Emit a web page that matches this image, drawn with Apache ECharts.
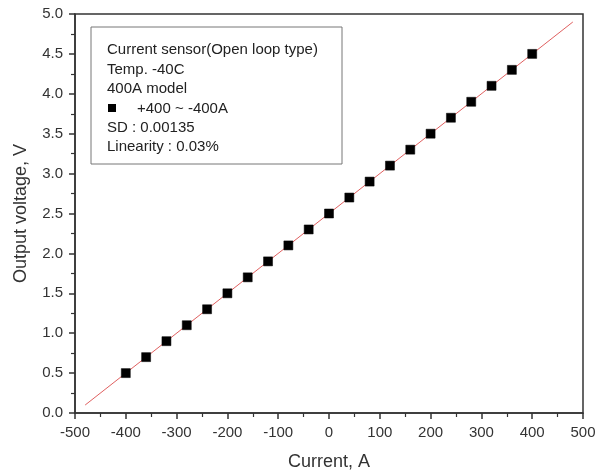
<!DOCTYPE html>
<html>
<head>
<meta charset="utf-8">
<script src="https://cdn.jsdelivr.net/npm/echarts@6/dist/echarts.min.js"></script>
<style>html,body{margin:0;padding:0;background:#fff}#c{width:610px;height:474px}</style>
</head>
<body>
<div id="c"></div>
<script>
var currents = [-400,-360,-320,-280,-240,-200,-160,-120,-80,-40,0,40,80,120,160,200,240,280,320,360,400];
var voltages = [0.50,0.70,0.90,1.10,1.30,1.50,1.70,1.90,2.10,2.30,2.50,2.70,2.90,3.10,3.30,3.50,3.70,3.90,4.10,4.30,4.50];
var fitX = [-480, 480];
var fitY = [0.10, 4.90];
var legendLines = ['Current sensor(Open loop type)','Temp. -40C','400A model','+400 ~ -400A','SD : 0.00135','Linearity : 0.03%'];

var chart = echarts.init(document.getElementById('c'), null, {renderer:'canvas'});
var font = 'Liberation Sans, Arial, sans-serif';
var texts = [];
var lineYs = [50,70,89,109,128,147];
legendLines.forEach(function(t,i){
  texts.push({type:'text', left: i===3 ? 137 : 107, top: lineYs[i]-8, style:{text:t, font:'15px '+font, fill:'#222'}});
});
texts.push({type:'rect', shape:{x:108,y:104,width:8,height:8}, style:{fill:'#000'}});
texts.unshift({type:'rect', shape:{x:91,y:27,width:251,height:137}, style:{fill:'#fff', stroke:'#777', lineWidth:1}});

chart.setOption({
  animation:false,
  backgroundColor:'#fff',
  grid:{left:75,right:27,top:14,bottom:61,outerBoundsMode:'none',containLabel:false,show:true,borderColor:'#333',borderWidth:1.5,backgroundColor:'transparent'},
  xAxis:{type:'value',min:-500,max:500,interval:100,
    name:'Current, A',nameLocation:'middle',nameGap:40,
    nameTextStyle:{fontFamily:font,fontSize:18,color:'#333'},
    axisLine:{onZero:false,lineStyle:{color:'#333',width:1.5}},
    axisTick:{show:true,inside:false,length:6,lineStyle:{color:'#333',width:1.5}},
    minorTick:{show:true,splitNumber:2,length:4,lineStyle:{color:'#333',width:1.2}},
    axisLabel:{fontFamily:font,fontSize:15,color:'#333',margin:12},
    splitLine:{show:false}},
  yAxis:{type:'value',min:0,max:5,interval:0.5,
    name:'Output voltage, V',nameLocation:'middle',nameGap:45,
    nameTextStyle:{fontFamily:font,fontSize:18,color:'#333'},
    axisLine:{onZero:false,lineStyle:{color:'#333',width:1.5}},
    axisTick:{show:true,inside:false,length:6,lineStyle:{color:'#333',width:1.5}},
    minorTick:{show:true,splitNumber:2,length:4,lineStyle:{color:'#333',width:1.2}},
    axisLabel:{fontFamily:font,fontSize:15,color:'#333',margin:12,formatter:function(v){return v.toFixed(1);}},
    splitLine:{show:false}},
  series:[
    {type:'line',data:fitX.map(function(x,i){return [x,fitY[i]];}),showSymbol:false,symbol:'none',
     lineStyle:{color:'#e06060',width:1},z:2},
    {type:'scatter',data:currents.map(function(x,i){return [x,voltages[i]];}),symbol:'rect',symbolSize:9,
     itemStyle:{color:'#000',opacity:1,borderColor:'#000',borderWidth:0.5},z:3}
  ],
  graphic:texts
});
</script>
</body>
</html>
